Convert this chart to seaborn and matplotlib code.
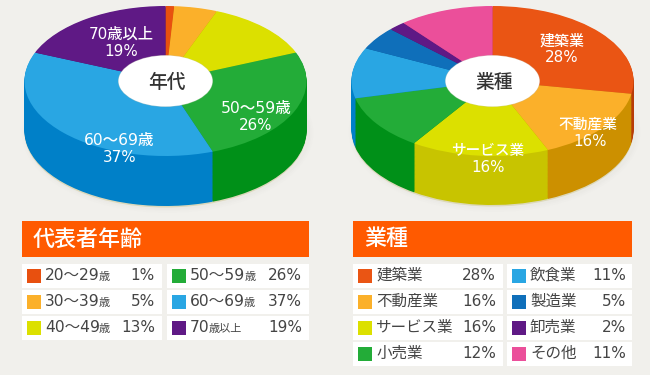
import matplotlib
matplotlib.use('Agg')
import matplotlib.pyplot as plt
from matplotlib.patches import Ellipse, Rectangle
import numpy as np
import seaborn as sns

# age groups
age_main = ['20〜29', '30〜39', '40〜49', '50〜59', '60〜69', '70']
age_suffix = ['歳', '歳', '歳', '歳', '歳', '歳以上']
age_values = [1, 5, 13, 26, 37, 19]
age_colors = ['#e8500f', '#fbb02a', '#dce000', '#23ac38', '#29a6e3', '#5f1985']
age_sides = ['#b83c08', '#cc9000', '#c8c400', '#009018', '#0080c8', '#481068']

# industries
ind_labels = ['建築業', '不動産業', 'サービス業', '小売業', '飲食業', '製造業', '卸売業', 'その他']
ind_values = [28, 16, 16, 12, 11, 5, 2, 11]
ind_colors = ['#ea5514', '#fbb02a', '#dce000', '#23ac38', '#29a6e3', '#0f6fba', '#5f1985', '#eb4f9a']
ind_sides = ['#b83c08', '#cc9000', '#c8c400', '#009018', '#0080c8', '#0a5a9a', '#481068', '#c03a80']

BG = '#f1f0ec'
HEADER = '#ff5a00'
TXT = '#444444'
W, H = 650, 375

sns.set_theme(style='white')
# DejaVu digits are closer to the wide digits of the original
plt.rcParams['font.family'] = ['DejaVu Sans', 'Noto Sans CJK JP']

fig = plt.figure(figsize=(W / 100, H / 100), dpi=100, facecolor=BG)

# pixel axes under the pies, for shadows and tables
base = fig.add_axes([0, 0, 1, 1], zorder=0)
base.set_xlim(0, W)
base.set_ylim(H, 0)
base.axis('off')

# pixel axes over the pies, for labels
top = fig.add_axes([0, 0, 1, 1], zorder=2)
top.set_xlim(0, W)
top.set_ylim(H, 0)
top.axis('off')
top.patch.set_alpha(0)


def draw_pie(values, colors, sides, cx, cy, rx, ry, depth):
    # soft shadow under the disc
    for grow, a in [(10, 0.012), (6, 0.015), (3, 0.02)]:
        base.add_patch(Ellipse((cx + 2, cy + depth + 2), 2 * rx + grow, 2 * ry + grow,
                               color='#8a8a70', alpha=a, lw=0))
    base.add_patch(Ellipse((cx, cy + depth + 1.5), 2 * rx, 2 * ry, color='#dcd8ba', lw=0))

    left = cx - rx * 1.1
    bottom = cy + ry * 1.05 + depth
    height = ry * 2.1 + depth
    ax = fig.add_axes([left / W, 1 - bottom / H, rx * 2.2 / W, height / H], zorder=1)
    d_units = depth / ry
    for d in np.linspace(d_units, 0.01, 60):
        ax.pie(values, colors=sides, center=(0, -d), startangle=90, counterclock=False,
               wedgeprops={'linewidth': 0})
    ax.pie(values, colors=colors, center=(0, 0), startangle=90, counterclock=False,
           wedgeprops={'linewidth': 0})
    # white hole in the middle
    ax.add_patch(Ellipse((0, 0), 2 * 47.5 / rx, 2 * 26 / ry, color='#c8c8b8', alpha=0.5, lw=0))
    ax.add_patch(Ellipse((0, 0), 2 * 47 / rx, 2 * 25.5 / ry, color='white', lw=0))
    ax.set_aspect('auto')
    ax.set_xlim(-1.1, 1.1)
    ax.set_ylim(-1.05 - d_units, 1.05)
    ax.axis('off')
    ax.patch.set_alpha(0)
    return ax


draw_pie(age_values, age_colors, age_sides, 165.5, 81, 141, 75, 50)
draw_pie(ind_values, ind_colors, ind_sides, 492.5, 81, 141, 75, 49)

# labels on the pies
for x, y, s, size, col in [
    (167, 82, '年代', 13.5, '#333333'),
    (121, 34, '70歳以上', 11, 'white'), (121, 52, '19%', 10.9, 'white'),
    (256, 109, '50〜59歳', 11.2, 'white'), (256, 126, '26%', 10.9, 'white'),
    (119, 140, '60〜69歳', 11.2, 'white'), (120, 157, '37%', 10.9, 'white'),
    (494, 82, '業種', 13.5, '#333333'),
    (562, 41, '建築業', 10.8, 'white'), (562, 58, '28%', 10.9, 'white'),
    (588, 124, '不動産業', 10.6, 'white'), (590, 141, '16%', 10.9, 'white'),
    (488, 150, 'サービス業', 10.5, 'white'), (488, 167, '16%', 10.9, 'white'),
]:
    top.text(x, y, s, color=col, fontsize=size, ha='center', va='center',
             fontweight='medium')


def draw_table(title, mains, suffixes, values, colors, col_x, pct_right, title_x, x0, x1):
    base.add_patch(Rectangle((x0, 221), x1 - x0, 36, color=HEADER, lw=0))
    base.text(title_x, 239, title, color='white', fontsize=15.8, ha='left', va='center',
              fontweight='medium')

    per_col = (len(values) + 1) // 2
    sw_x, sw_y = [], []
    renderer = fig.canvas.get_renderer()
    for i in range(len(values)):
        c, r = i // per_col, i % per_col
        y0 = 264 + r * 26
        base.add_patch(Rectangle((col_x[c][0], y0), col_x[c][1] - col_x[c][0], 24, color='white', lw=0))
        sw_x.append(col_x[c][0] + 12)
        sw_y.append(y0 + 12)
        t = base.text(col_x[c][0] + 23, y0 + 11.5, mains[i], color=TXT, fontsize=11.2, ha='left', va='center')
        if suffixes[i]:
            ext = t.get_window_extent(renderer)
            base.text(ext.x1 - 1, y0 + 13, suffixes[i], color=TXT, fontsize=8, ha='left', va='center')
        base.text(pct_right[c], y0 + 11.5, f'{values[i]}%', color=TXT, fontsize=11, ha='right', va='center')
    sns.scatterplot(x=sw_x, y=sw_y, hue=[str(i) for i in range(len(values))],
                    palette=colors, marker='s', s=100, linewidth=0, legend=False, ax=base, zorder=3)
    base.set_xlim(0, W)
    base.set_ylim(H, 0)


draw_table('代表者年齢', age_main, age_suffix, age_values, age_colors,
           [(22, 162), (167, 309)], [155, 302], 33, 22, 309)
draw_table('業種', ind_labels, [''] * len(ind_labels), ind_values, ind_colors,
           [(353, 503), (507, 632)], [496, 626], 364, 353, 632)

plt.savefig('out.png', dpi=100, facecolor=BG)
